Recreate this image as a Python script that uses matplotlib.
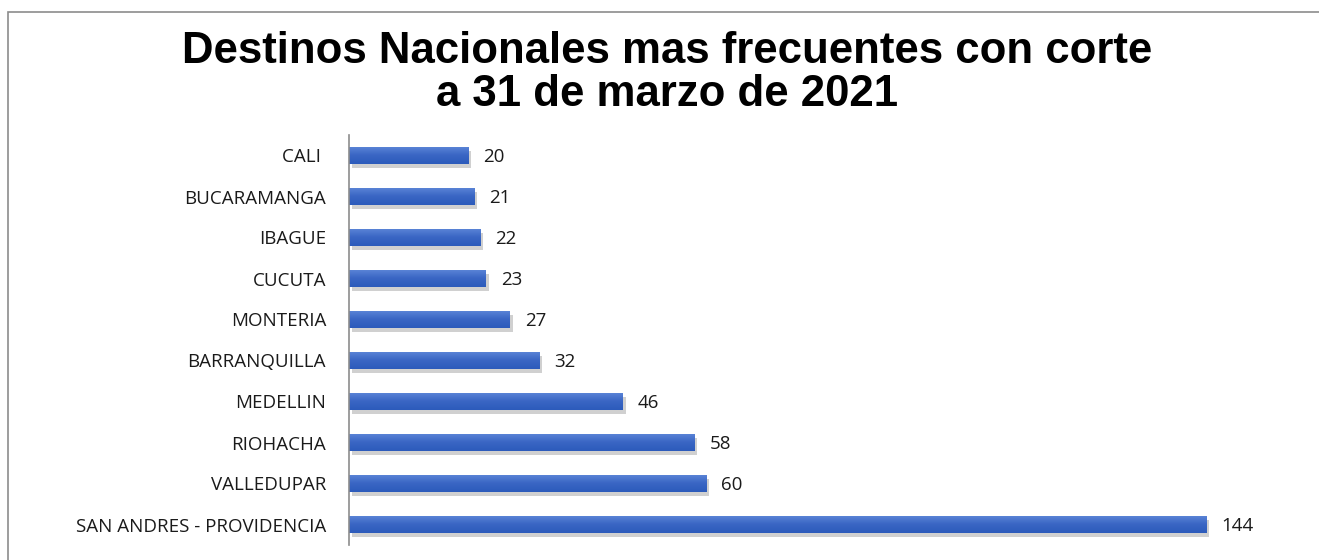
import numpy as np
import matplotlib.pyplot as plt
from matplotlib.patches import Rectangle
from matplotlib.colors import LinearSegmentedColormap
from matplotlib import patheffects as pe

destinos = ["CALI ", "BUCARAMANGA", "IBAGUE", "CUCUTA", "MONTERIA",
            "BARRANQUILLA", "MEDELLIN", "RIOHACHA", "VALLEDUPAR",
            "SAN ANDRES - PROVIDENCIA"]
valores = [20, 21, 22, 23, 27, 32, 46, 58, 60, 144]
titulo_1 = "Destinos Nacionales mas frecuentes con corte"
titulo_2 = "a 31 de marzo de 2021"

W, H = 1319, 560
fig = plt.figure(figsize=(W/100, H/100), dpi=100)
fig.patch.set_facecolor("white")

# chart frame (cut off on right and bottom like the screenshot)
fig.add_artist(Rectangle((8/W, -0.05), 1.2, 0.05 + (1 - 12/H),
                         transform=fig.transFigure, fill=False,
                         edgecolor="#8c8c8c", lw=1.2))

ax = fig.add_axes([349/W, 15/H, (1290-349)/W, (425-15)/H])
y = np.arange(len(destinos))
bars = ax.barh(y, valores, height=0.42, color="#3b68c6",
               path_effects=[pe.SimplePatchShadow(offset=(2, -3), shadow_rgbFace="#666666", alpha=0.3),
                             pe.Normal()])

# light vertical gradient on each bar
grad = np.linspace(0, 1, 64).reshape(-1, 1)
cmap = LinearSegmentedColormap.from_list("g", ["#5d86d8", "#3a66c4", "#2c5bbb"])
for b in bars:
    x0, y0 = b.get_x(), b.get_y()
    w, h = b.get_width(), b.get_height()
    im = ax.imshow(grad, cmap=cmap, aspect="auto", extent=(x0, x0 + w, y0 + h, y0),
                   origin="upper", zorder=b.get_zorder() + 0.1)
    im.set_clip_path(b)

ax.set_xlim(0, 158)
ax.set_ylim(len(destinos) - 0.5, -0.5)
ax.set_yticks(y)
ax.set_yticklabels(destinos, fontfamily="Open Sans", fontsize=13.5, color="#1a1a1a")
ax.tick_params(axis="y", length=0, pad=16.5)
ax.set_xticks([])
for s in ["top", "right", "bottom"]:
    ax.spines[s].set_visible(False)
ax.spines["left"].set_color("#8c8c8c")
ax.spines["left"].set_linewidth(1.2)

for yi, v in zip(y, valores):
    ax.text(v + 2.5, yi + 0.03, str(v), va="center", ha="left",
            fontfamily="Open Sans", fontsize=13.5, color="#1a1a1a")

fig.text(0.506, 1 - 63/H, titulo_1, ha="center", va="baseline", fontsize=31.5,
         fontweight="bold", fontfamily="Liberation Sans")
fig.text(0.506, 1 - 106/H, titulo_2, ha="center", va="baseline", fontsize=31.5,
         fontweight="bold", fontfamily="Liberation Sans")

fig.savefig("out.png", dpi=100)
